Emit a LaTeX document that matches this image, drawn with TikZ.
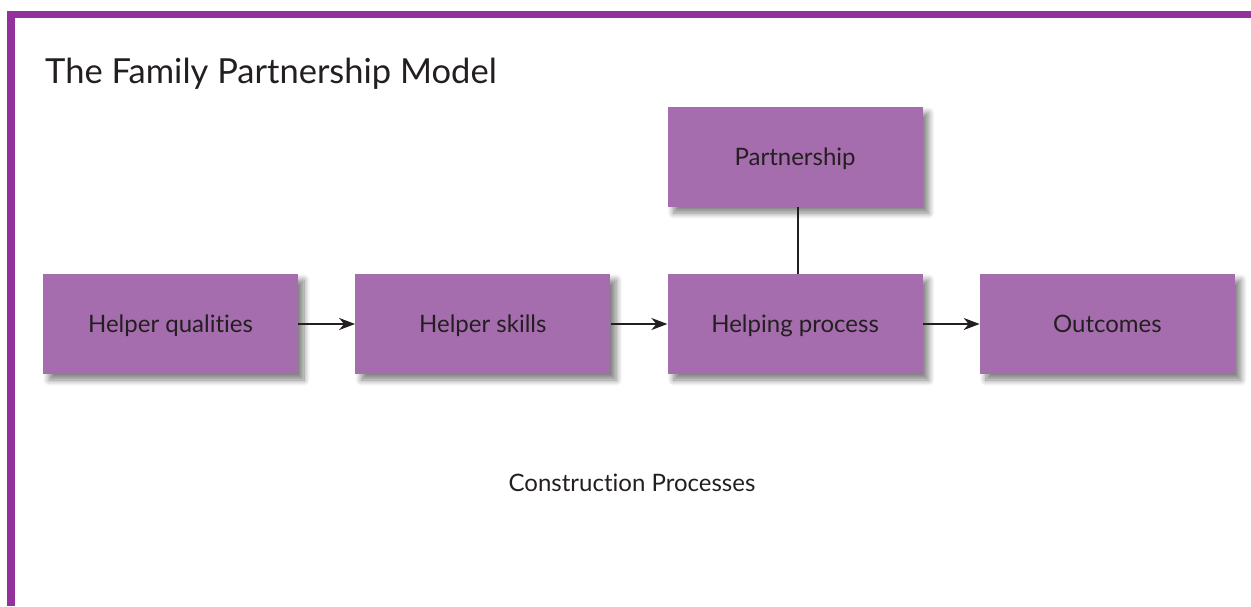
\documentclass[tikz,border=0pt]{standalone}
\usepackage{fontspec}
\setmainfont{Lato}[Ligatures={NoCommon,NoRare}]
\usepackage{tikz}
\usetikzlibrary{arrows.meta,positioning,shadows.blur}

\definecolor{framepurple}{HTML}{93329A}
\definecolor{boxpurple}{HTML}{A66DAE}
\definecolor{inkdark}{HTML}{231F20}

\begin{document}
\begin{tikzpicture}[x=1pt,y=-1pt,>={Stealth[length=16pt,width=12pt,inset=5pt]},node distance=312.3pt,on grid,
  box/.style={rectangle,fill=boxpurple,minimum width=255pt,minimum height=100pt,
    text=inkdark,font=\fontsize{24}{28}\selectfont,text depth=0pt,
    blur shadow={shadow xshift=6pt,shadow yshift=-6pt,shadow blur radius=6pt,shadow blur steps=10,shadow opacity=50}},
  link/.style={draw=inkdark,line width=2pt}]
  \useasboundingbox (0,0) rectangle (1251,606);
  \fill[framepurple] (7,11) rectangle (1251,18);
  \fill[framepurple] (7,11) rectangle (15,606);
  \node[anchor=base west,text=inkdark,font=\fontsize{34.5}{40}\selectfont,inner sep=0pt] (title) at (45,83) {The Family Partnership Model};
  \node[box] (qual)                        at (170.5,324) {Helper qualities};
  \node[box] (skill) [right=of qual]       {Helper skills};
  \node[box] (proc)  [right=of skill]      {Helping process};
  \node[box] (out)   [right=of proc]       {Outcomes};
  \node[box] (part)  [above=167pt of proc] {Partnership};
  \node[text=inkdark,font=\fontsize{24}{28}\selectfont] (constr) at (632,483) {Construction Processes};
\path (qual)  edge [link,->] (skill)
      (skill) edge [link,->] (proc)
      (proc)  edge [link,->] (out)
      ([xshift=3pt]part.south) edge [link] ([xshift=3pt]proc.north);
\end{tikzpicture}
\end{document}
